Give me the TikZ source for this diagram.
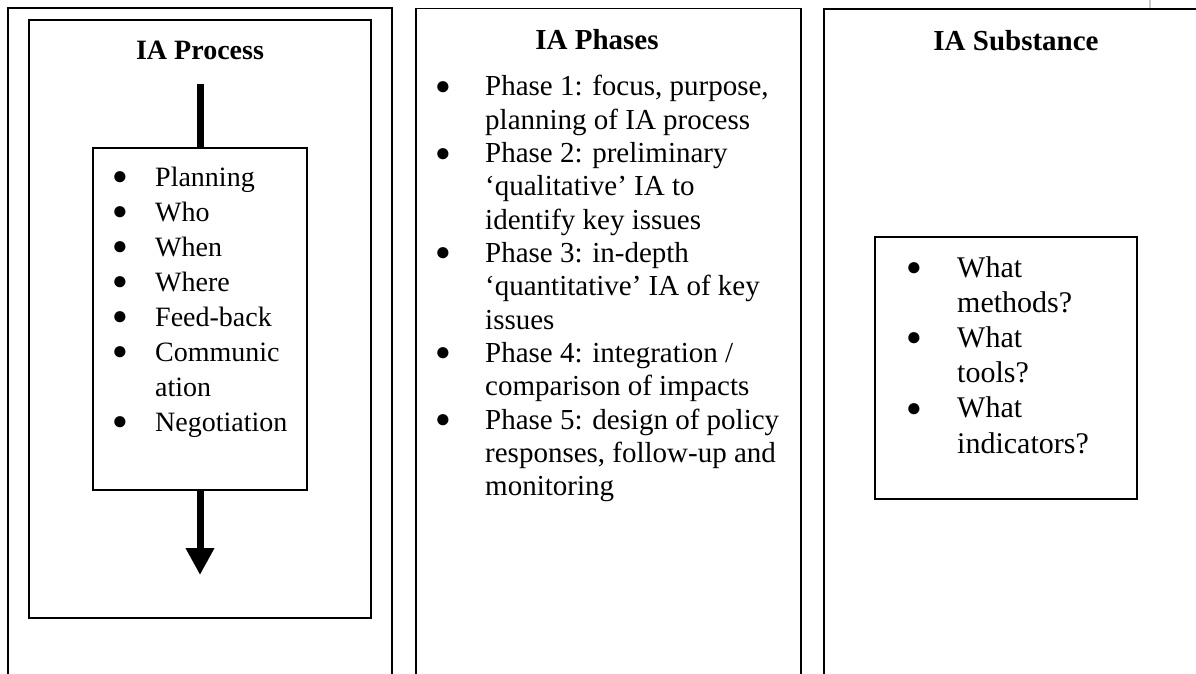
\documentclass[tikz,border=0pt]{standalone}
\usepackage{fontspec}
\setmainfont{Liberation Serif}
\usetikzlibrary{arrows.meta}
% list bullet: a black circle set a little smaller than the text
\newcommand\lbul{{\fontsize{26}{26}\selectfont\raisebox{0.06em}{●}}}
\begin{document}
\begin{tikzpicture}[x=1pt,y=-1pt,
  frame/.style={draw=black, line width=1.4pt},
  listbox/.style={draw=black, line width=1.4pt, inner sep=0pt},
  heading/.style={anchor=base, inner sep=0pt, font=\fontsize{#1}{#1}\selectfont\bfseries},
  bullets/.style={anchor=base west, inner sep=0pt, align=left},
  flow/.style={line width=7pt}]
\useasboundingbox (0,0) rectangle (1196,674);
\clip (0,0) rectangle (1196,674);

% three column panels (they run past the lower edge)
\draw[frame] (8,700) -- (8,8) -- (392,8) -- (392,700);
\draw[frame] (416,700) -- (416,8.5) -- (801,8.5) -- (801,700);
\draw[frame] (824,700) -- (824,9) -- (1220,9);
\draw[gray!40, line width=2pt] (1150,0) -- (1150,8);

% ---------- IA Process ----------
\draw[frame] (29,20) rectangle (371,618);
\node[heading=28] (proctitle) at (200,60) {IA Process};
\node[listbox, minimum width=214pt, minimum height=342pt] (procbox) at (200,319) {};
\node[bullets, font=\fontsize{28}{35}\selectfont] (proclist) at (112,186)
  {\begin{tabular}[t]{@{}p{43pt}@{}l@{}}
   \lbul & Planning\\
   \lbul & Who\\
   \lbul & When\\
   \lbul & Where\\
   \lbul & Feed-back\\
   \lbul & Communic\\
         & ation\\
   \lbul & Negotiation
   \end{tabular}};
\coordinate (flowtop) at (200,84);
\coordinate (flowend) at (200,575);
\draw[flow] (flowtop) -- (procbox.north);
\draw[flow, -{Triangle[length=27pt, width=27pt]}] (procbox.south) -- (flowend);

% ---------- IA Phases ----------
\node[heading=29] (phasetitle) at (597,50) {IA Phases};
\node[bullets, font=\fontsize{29}{33.3}\selectfont] (phaselist) at (435,96)
  {\begin{tabular}[t]{@{}p{50pt}@{}l@{}}
   \lbul & Phase 1: focus, purpose,\\
         & planning of IA process\\
   \lbul & Phase 2: preliminary\\
         & ‘qualitative’ IA to\\
         & identify key issues\\
   \lbul & Phase 3: in-depth\\
         & ‘quantitative’ IA of key\\
         & issues\\
   \lbul & Phase 4: integration /\\
         & comparison of impacts\\
   \lbul & Phase 5: design of policy\\
         & responses, follow-up and\\
         & monitoring
   \end{tabular}};

% ---------- IA Substance ----------
\node[heading=29] (substtitle) at (1016,51) {IA Substance};
\node[listbox, minimum width=262pt, minimum height=262pt] (substbox) at (1006,368) {};
\node[bullets, font=\fontsize{30}{35.2}\selectfont] (substlist) at (906,277)
  {\begin{tabular}[t]{@{}p{51pt}@{}l@{}}
   \lbul & What\\
         & methods?\\
   \lbul & What\\
         & tools?\\
   \lbul & What\\
         & indicators?
   \end{tabular}};
\end{tikzpicture}
\end{document}
